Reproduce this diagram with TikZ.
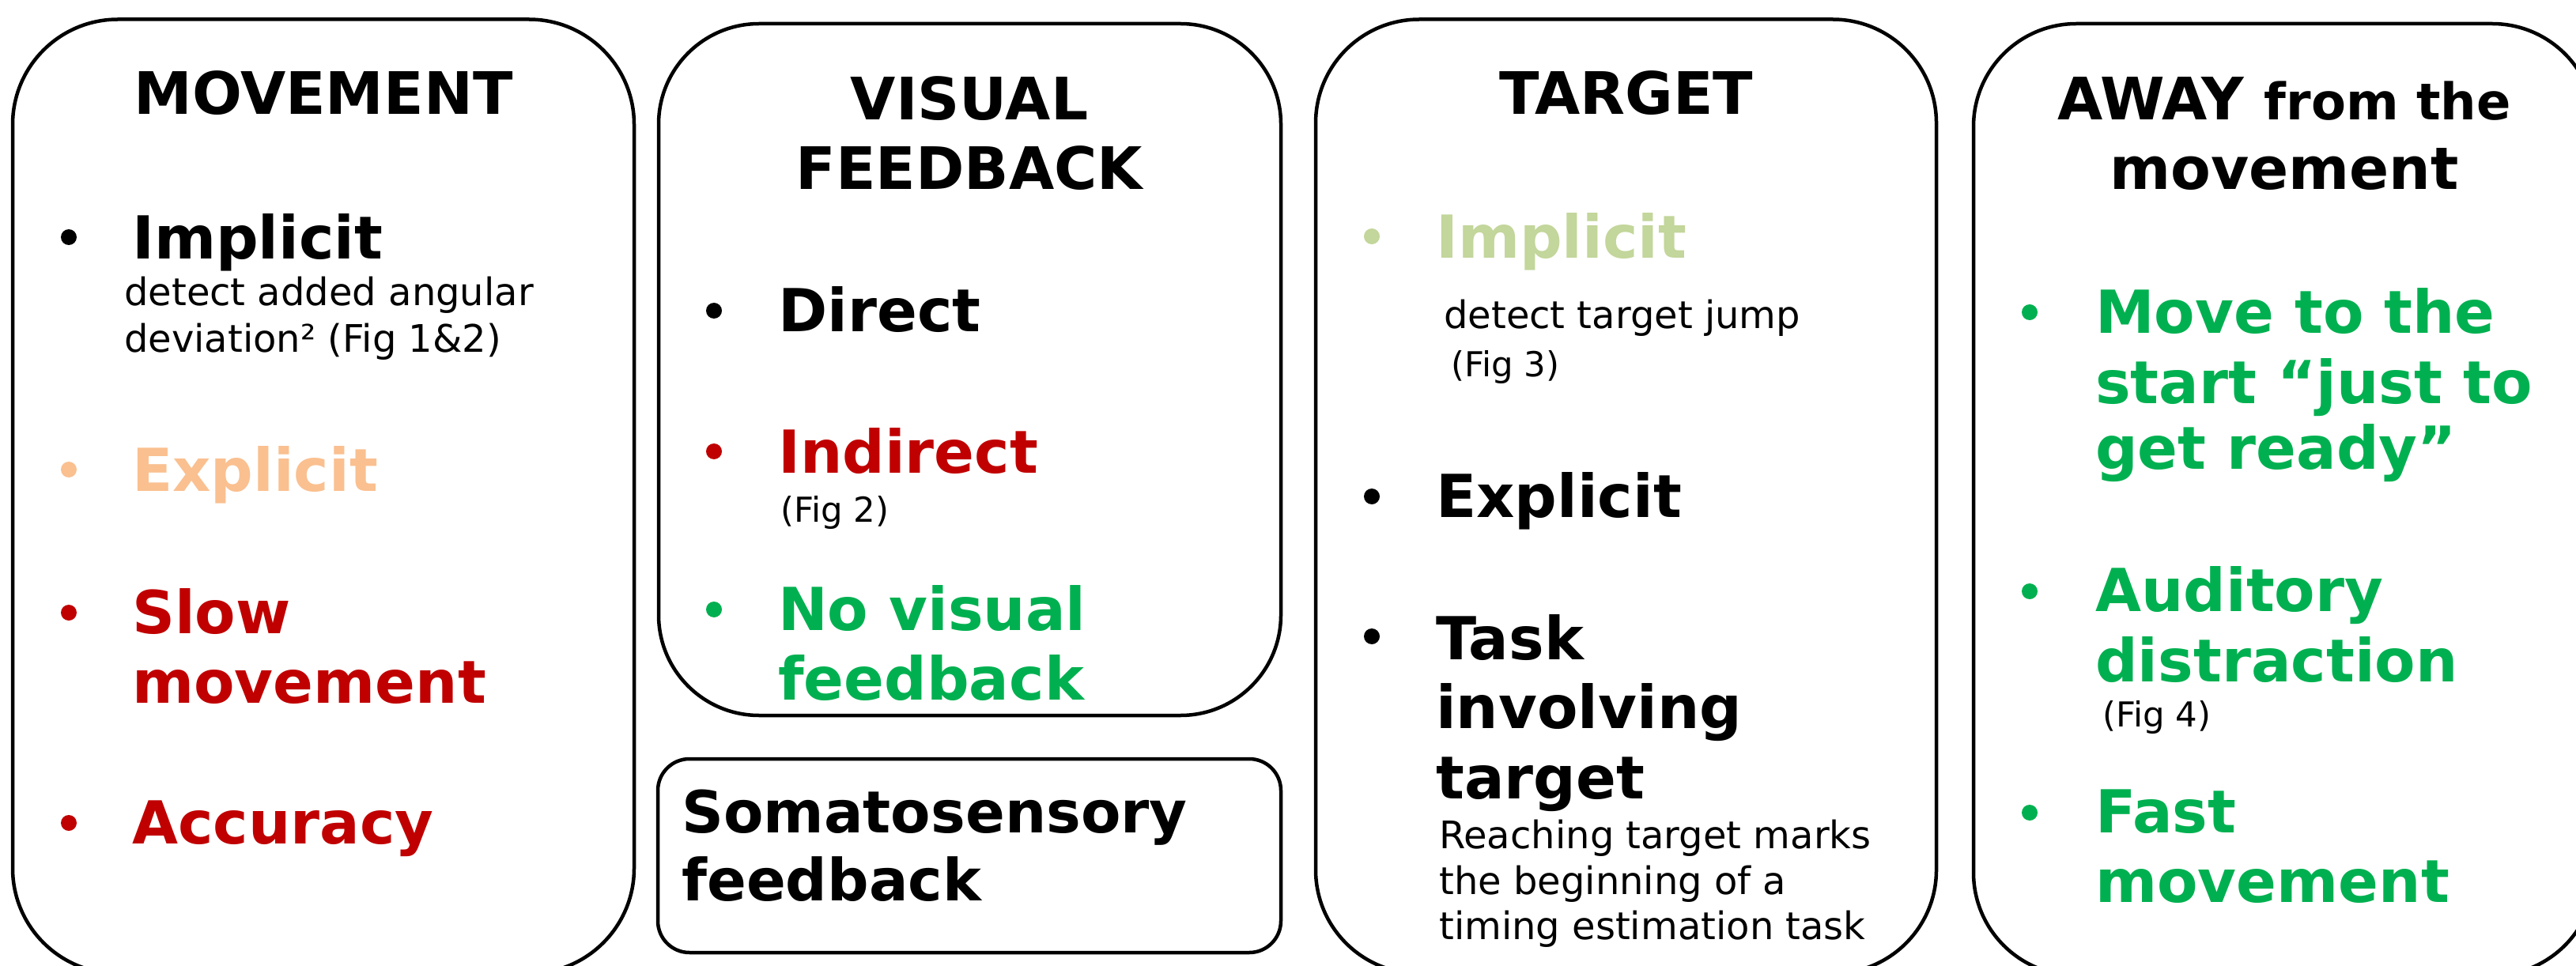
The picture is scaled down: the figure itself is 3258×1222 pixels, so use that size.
\documentclass[tikz,border=0pt]{standalone}
\usepackage{fontspec}
\setmainfont{DejaVu Sans}
\definecolor{dred}{HTML}{C00000}
\definecolor{dgreen}{HTML}{00B050}
\definecolor{peach}{HTML}{FAC090}
\definecolor{lgreen}{HTML}{C3D69B}
\tikzset{
  panel/.style={draw=black, line width=4.5pt, rounded corners=#1, inner sep=0pt, fill=white},
  ttl/.style={font=\fontsize{74}{88}\selectfont\bfseries, anchor=base, inner sep=0pt},
  big/.style={font=\fontsize{75}{88}\selectfont\bfseries, anchor=base west, inner sep=0pt},
  small/.style={font=\fontsize{48}{57}\selectfont, anchor=base west, inner sep=0pt},
  figl/.style={font=\fontsize{43.5}{50}\selectfont, anchor=base west, inner sep=0pt},
  dot/.style={circle, fill=#1, minimum size=20pt, inner sep=0pt},
}
\begin{document}
\begin{tikzpicture}[x=1pt,y=-1pt]
\useasboundingbox (0,0) rectangle (3258,1222);
\fill[white] (0,0) rectangle (3258,1222);
\clip (0,0) rectangle (3258,1222);

% panels
\node[panel=133pt, minimum width=786pt, minimum height=1207pt] (pmove) at (409,628) {};
\node[panel=127pt, minimum width=787pt, minimum height=875pt] (pvis) at (1226.5,467.5) {};
\node[panel=40pt, minimum width=788pt, minimum height=245pt] (psom) at (1226,1082.5) {};
\node[panel=131pt, minimum width=785pt, minimum height=1207pt] (ptar) at (2056.5,628) {};
\node[panel=130pt, minimum width=786pt, minimum height=1204pt] (paway) at (2889,632) {};

% MOVEMENT
\node[ttl] (tmove) at (409,145) {MOVEMENT};
\node[dot=black] (m1) at (87,300) {};
\node[big] (mimp) at (167,328) {Implicit};
\node[small] (mimpa) at (157,387) {detect added angular};
\node[small] (mimpb) at (157,445) {deviation² (Fig 1\&2)};
\node[dot=peach] (m2) at (87,594) {};
\node[big, text=peach] (mexp) at (167,621) {Explicit};
\node[dot=dred] (m3) at (87,775) {};
\node[big, text=dred] (mslow) at (167,801) {Slow};
\node[big, text=dred] (mslowb) at (167,889) {movement};
\node[dot=dred] (m4) at (87,1041) {};
\node[big, text=dred] (macc) at (167,1067) {Accuracy};

% VISUAL FEEDBACK
\node[ttl] (tvis) at (1226,152) {VISUAL};
\node[ttl] (tvisb) at (1226,240) {FEEDBACK};
\node[dot=black] (v1) at (903,393) {};
\node[big] (vdir) at (984,419) {Direct};
\node[dot=dred] (v2) at (903,571) {};
\node[big, text=dred] (vind) at (984,598) {Indirect};
\node[figl] (vfig) at (987,660) {(Fig 2)};
\node[dot=dgreen] (v3) at (903,771) {};
\node[big, text=dgreen] (vno) at (984,797) {No visual};
\node[big, text=dgreen] (vnob) at (984,885) {feedback};

% Somatosensory
\node[big, font=\fontsize{73.5}{88}\selectfont\bfseries] (som) at (862,1053) {Somatosensory};
\node[big, font=\fontsize{73.5}{88}\selectfont\bfseries] (somb) at (862,1139) {feedback};

% TARGET
\node[ttl] (ttar) at (2057,145) {TARGET};
\node[dot=lgreen] (t1) at (1735,299) {};
\node[big, text=lgreen] (timp) at (1816,327) {Implicit};
\node[small] (timpa) at (1826,415) {detect target jump};
\node[figl] (tfig) at (1835,476) {(Fig 3)};
\node[dot=black] (t2) at (1735,628) {};
\node[big] (texp) at (1816,654) {Explicit};
\node[dot=black] (t3) at (1735,805) {};
\node[big] (ttask) at (1816,834) {Task};
\node[big] (ttaskb) at (1816,921) {involving};
\node[big] (ttaskc) at (1816,1010) {target};
\node[small] (treach) at (1820,1073) {Reaching target marks};
\node[small] (treachb) at (1820,1131) {the beginning of a};
\node[small] (treachc) at (1820,1188) {timing estimation task};

% AWAY from the movement
\node[ttl] (taway) at (2889,152) {AWAY {\fontsize{64}{74}\selectfont from the}};
\node[ttl] (tawayb) at (2889,240) {movement};
\node[dot=dgreen] (a1) at (2567,395) {};
\node[big, text=dgreen] (amove) at (2650,421) {Move to the};
\node[big, text=dgreen] (amoveb) at (2650,510) {start “just to};
\node[big, text=dgreen] (amovec) at (2650,593) {get ready”};
\node[dot=dgreen] (a2) at (2567,748) {};
\node[big, text=dgreen] (aaud) at (2650,773) {Auditory};
\node[big, text=dgreen] (aaudb) at (2650,862) {distraction};
\node[figl] (afig) at (2659,919) {(Fig 4)};
\node[dot=dgreen] (a3) at (2567,1028) {};
\node[big, text=dgreen] (afast) at (2650,1053) {Fast};
\node[big, text=dgreen] (afastb) at (2650,1141) {movement};
\end{tikzpicture}
\end{document}
